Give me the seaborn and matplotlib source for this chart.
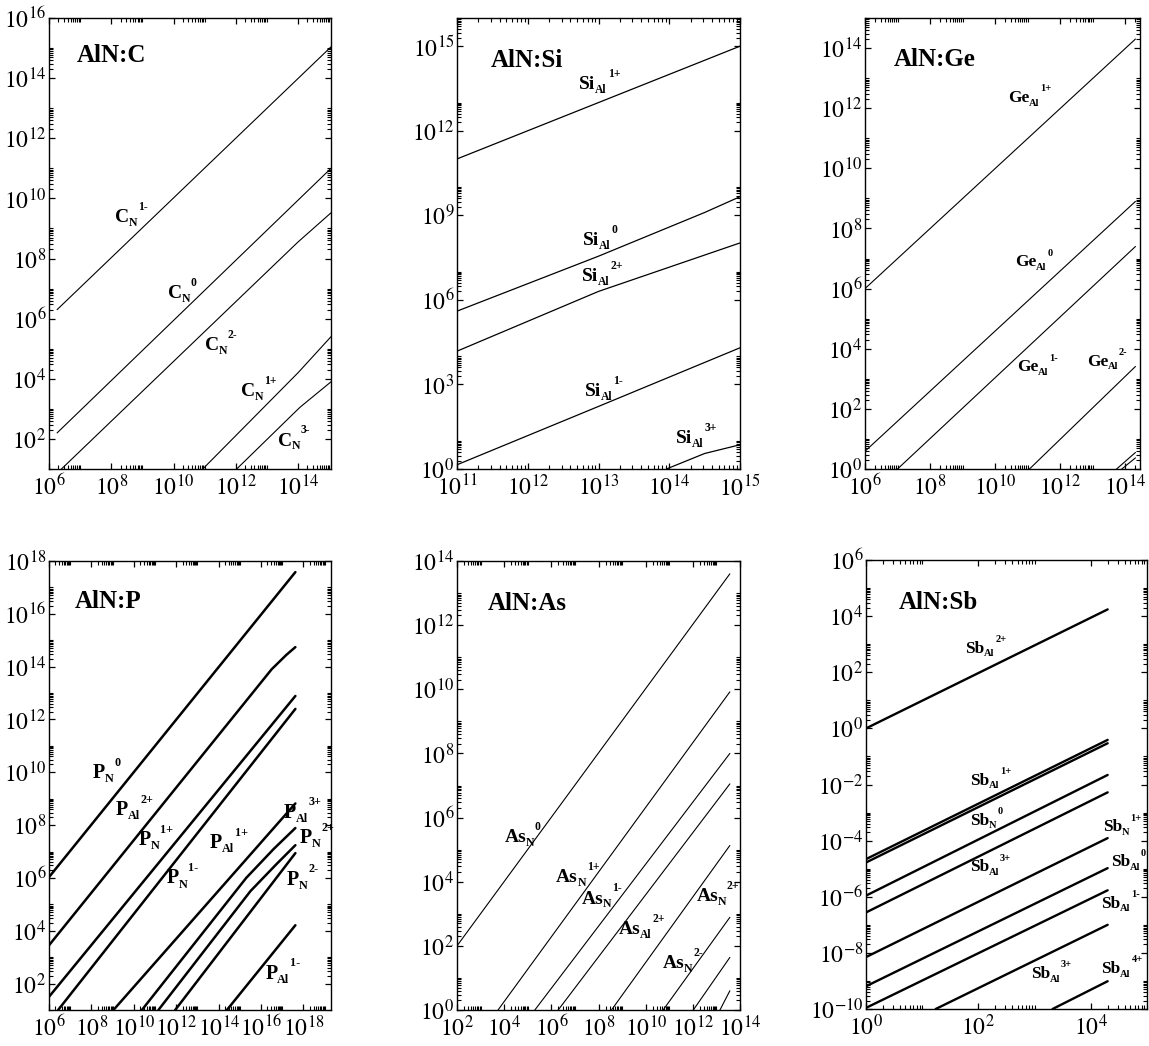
import matplotlib
matplotlib.use("Agg")
import matplotlib.pyplot as plt
import numpy as np
import seaborn as sns
from matplotlib.font_manager import FontProperties
from matplotlib.textpath import text_to_path
from matplotlib.ticker import FixedLocator, FuncFormatter, NullFormatter

sns.set_theme(
    style="ticks",
    rc={
        "text.color": "black",
        "axes.edgecolor": "black",
        "axes.linewidth": 1.0,
        "xtick.color": "black",
        "ytick.color": "black",
    },
)
plt.rcParams["font.family"] = ["Liberation Serif", "DejaVu Serif"]
plt.rcParams["mathtext.fontset"] = "stix"

# ---- data: log10(x), log10(y) points per curve ----
# AlN:C
c_logx = [[6.26, 15.06], [6.26, 15.06], [6.4, 14.0, 15.06], [10.94, 14.0, 15.06], [12.03, 14.06, 15.06]]
c_logy = [[6.3, 15.04], [2.2, 11.0], [1.0, 8.55, 9.52], [1.0, 4.2, 5.4], [1.0, 3.05, 3.9]]
c_labels = [("C", "N", "1-"), ("C", "N", "0"), ("C", "N", "2-"), ("C", "N", "1+"), ("C", "N", "3-")]
c_label_x = [8.13, 9.82, 11.0, 12.18, 13.35]
c_label_y = [9.2, 6.69, 4.97, 3.42, 1.78]

# AlN:Si
si_logx = [[11, 13, 15], [11, 13, 14.5, 15], [11, 13, 15], [11, 13, 14.5, 15], [13.96, 14.5, 15]]
si_logy = [[11.0, 13.0, 15.0], [5.6, 7.55, 9.1, 9.66], [4.18, 6.3, 8.02], [0.15, 2.22, 3.78, 4.3], [0.0, 0.55, 0.86]]
si_labels = [("Si", "Al", "1+"), ("Si", "Al", "0"), ("Si", "Al", "2+"), ("Si", "Al", "1-"), ("Si", "Al", "3+")]
si_label_x = [12.73, 12.78, 12.77, 12.81, 14.1]
si_label_y = [13.47, 7.96, 6.66, 2.6, 0.92]

# AlN:Ge
ge_logx = [[6.0, 14.32], [6.0, 14.32], [7.0, 14.32], [11.06, 14.32], [13.74, 14.32], [13.9, 14.32]]
ge_logy = [[6.0, 14.3], [0.59, 8.9], [0.0, 7.4], [0.0, 3.41], [0.0, 0.55], [0.0, 0.37]]
ge_labels = [("Ge", "Al", "1+"), ("Ge", "Al", "0"), ("Ge", "Al", "1-"), ("Ge", "Al", "2-")]
ge_label_x = [10.41, 10.62, 10.67, 12.83]
ge_label_y = [12.2, 6.74, 3.25, 3.44]

# AlN:P
p_logx = [[6.0, 17.62], [6.0, 16.5, 17.2, 17.62], [6.0, 17.62], [6.43, 17.62], [9.04, 17.62],
          [10.38, 15.3, 16.6, 17.62], [11.16, 15.5, 16.7, 17.62], [11.95, 17.62], [14.39, 17.62]]
p_logy = [[6.03, 17.58], [3.45, 13.9, 14.45, 14.74], [1.5, 12.89], [1.0, 12.4], [1.0, 8.82],
          [1.0, 6.0, 7.1, 7.89], [1.0, 5.5, 6.5, 7.24], [1.0, 6.94], [1.0, 4.21]]
p_labels = [("P", "N", "0"), ("P", "Al", "2+"), ("P", "N", "1+"), ("P", "N", "1-"), ("P", "Al", "1+"),
            ("P", "Al", "3+"), ("P", "N", "2+"), ("P", "N", "2-"), ("P", "Al", "1-")]
p_label_x = [8.06, 9.16, 10.22, 11.56, 13.6, 17.07, 17.82, 17.23, 16.2]
p_label_y = [9.77, 8.38, 7.24, 5.79, 7.12, 8.28, 7.31, 5.75, 2.19]

# AlN:As
as_logx = [[2.0, 13.57], [3.74, 13.57], [5.3, 13.57], [6.29, 13.57], [8.55, 13.57],
           [10.74, 13.57], [12.02, 13.57], [13.15, 13.57]]
as_logy = [[2.0, 13.6], [0.0, 9.92], [0.0, 8.0], [0.0, 7.05], [0.0, 5.13],
           [0.0, 2.89], [0.0, 1.64], [0.0, 0.6]]
as_labels = [("As", "N", "0"), ("As", "N", "1+"), ("As", "N", "1-"), ("As", "Al", "2+"),
             ("As", "N", "2+"), ("As", "N", "2-")]
as_label_x = [4.01, 6.21, 7.28, 8.85, 12.15, 10.72]
as_label_y = [5.23, 3.98, 3.32, 2.36, 3.41, 1.32]

# AlN:Sb
sb_logx = [[0, 4.3]] * 8 + [[1.24, 4.3], [3.32, 4.3]]
sb_logy = [[0.0, 4.24], [-4.66, -0.41], [-4.78, -0.53], [-5.96, -1.66], [-6.56, -2.28],
           [-8.15, -3.91], [-9.19, -4.98], [-9.96, -5.77], [-10.0, -7.0], [-10.0, -9.01]]
sb_labels = [("Sb", "Al", "2+"), ("Sb", "Al", "1+"), ("Sb", "N", "0"), ("Sb", "Al", "3+"),
             ("Sb", "N", "1+"), ("Sb", "Al", "0"), ("Sb", "Al", "1-"), ("Sb", "Al", "3+"),
             ("Sb", "Al", "4+")]
sb_label_x = [1.77, 1.85, 1.85, 1.85, 4.22, 4.36, 4.18, 2.93, 4.19]
sb_label_y = [2.70, -2.01, -3.44, -5.10, -3.67, -4.92, -6.40, -8.90, -8.72]

FIG_W, FIG_H = 1149, 1046
SCRIPT = 0.6


def text_width(s, prop):
    return text_to_path.get_text_width_height_descent(s, prop, ismath=False)[0]


def defect_label(ax, x, y, base, site, charge, size):
    """Grace-style label: base, small subscript site, small superscript charge after it."""
    big = FontProperties(family="Liberation Serif", weight="bold", size=size)
    small = FontProperties(family="Liberation Serif", weight="bold", size=size * SCRIPT)
    w_base = text_width(base, big)
    w_site = text_width(site, small)
    common = dict(xy=(x, y), xycoords="data", textcoords="offset points",
                  ha="left", va="baseline", annotation_clip=False)
    ax.annotate(base, xytext=(0, 0), fontproperties=big, **common)
    ax.annotate(site, xytext=(w_base - 0.3, -0.2 * size), fontproperties=small, **common)
    ax.annotate(charge, xytext=(w_base + w_site + 0.02 * size, 0.62 * size), fontproperties=small, **common)


def draw_panel(box, title, title_pos, xlim, ylim, xmajor, ymajor,
               logx, logy, labels, label_x, label_y, lw, label_size):
    left, top, right, bottom = box
    ax = fig.add_axes([left / FIG_W, 1 - bottom / FIG_H, (right - left) / FIG_W, (bottom - top) / FIG_H])
    ax.set_xscale("log")
    ax.set_yscale("log")
    for xs, ys in zip(logx, logy):
        sns.lineplot(x=10.0 ** np.array(xs), y=10.0 ** np.array(ys), ax=ax,
                     color="black", lw=lw, estimator=None, sort=False)
    ax.set_xlim(10.0 ** xlim[0], 10.0 ** xlim[1])
    ax.set_ylim(10.0 ** ylim[0], 10.0 ** ylim[1])

    for axis, major in ((ax.xaxis, xmajor), (ax.yaxis, ymajor)):
        step = major[1] - major[0]
        exps = list(range(major[0] - step, major[-1] + step + 1, step))
        mults = range(2, 11) if step > 1 else range(2, 10)
        axis.set_major_locator(FixedLocator([10.0 ** k for k in major]))
        axis.set_minor_locator(FixedLocator([m * 10.0 ** k for k in exps for m in mults]))
        axis.set_major_formatter(FuncFormatter(lambda v, p: r"$10^{%d}$" % round(np.log10(v))))
        axis.set_minor_formatter(NullFormatter())

    ax.tick_params(which="both", direction="in", top=True, right=True, labelsize=17)
    ax.tick_params(which="major", length=4.5, width=0.9)
    ax.tick_params(which="minor", length=2.6, width=0.8)
    ax.tick_params(axis="y", pad=2)
    ax.tick_params(axis="x", pad=4)

    ax.text(title_pos[0], title_pos[1], title, transform=ax.transAxes,
            fontsize=18, fontweight="bold", ha="left", va="center")
    for (base, site, charge), lx, ly in zip(labels, label_x, label_y):
        defect_label(ax, 10.0 ** lx, 10.0 ** ly, base, site, charge, label_size)
    ax.set_xlabel("")
    ax.set_ylabel("")
    return ax


fig = plt.figure(figsize=(FIG_W / 100, FIG_H / 100), dpi=100)

draw_panel((49, 18, 331, 469), "AlN:C", (0.10, 0.916), (6, 15.06), (1, 16),
           list(range(6, 15, 2)), list(range(2, 17, 2)),
           c_logx, c_logy, c_labels, c_label_x, c_label_y, 0.8, 14)
draw_panel((457, 18, 740, 469), "AlN:Si", (0.12, 0.905), (11, 15), (0, 16),
           list(range(11, 16)), list(range(0, 16, 3)),
           si_logx, si_logy, si_labels, si_label_x, si_label_y, 0.9, 14)
draw_panel((865, 18, 1140, 469), "AlN:Ge", (0.105, 0.907), (6, 14.46), (0, 15),
           list(range(6, 15, 2)), list(range(0, 15, 2)),
           ge_logx, ge_logy, ge_labels, ge_label_x, ge_label_y, 0.8, 12.5)
draw_panel((49, 561, 331, 1010), "AlN:P", (0.092, 0.909), (6, 19.3), (1, 18),
           list(range(6, 19, 2)), list(range(2, 19, 2)),
           p_logx, p_logy, p_labels, p_label_x, p_label_y, 1.8, 14.5)
draw_panel((457, 561, 740, 1010), "AlN:As", (0.11, 0.906), (2, 14), (0, 14),
           list(range(2, 15, 2)), list(range(0, 15, 2)),
           as_logx, as_logy, as_labels, as_label_x, as_label_y, 0.8, 14)
draw_panel((866, 560, 1147, 1009), "AlN:Sb", (0.117, 0.906), (0, 5), (-10, 6),
           list(range(0, 5, 2)), list(range(-10, 7, 2)),
           sb_logx, sb_logy, sb_labels, sb_label_x, sb_label_y, 1.7, 12.5)

fig.savefig("out.png", dpi=100)
